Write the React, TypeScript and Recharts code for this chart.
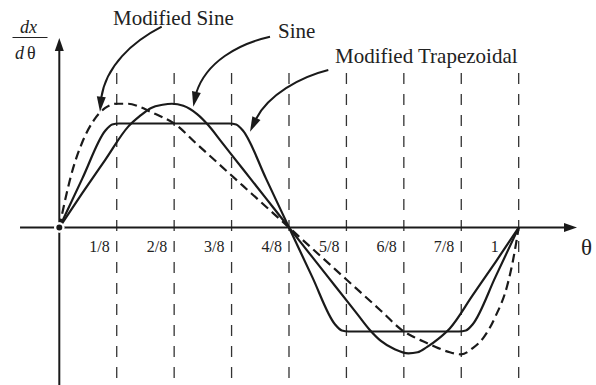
import React from "react";
import { LineChart, Line, XAxis, YAxis, ReferenceLine, ReferenceDot } from "recharts";

// curves, value scaled so the trapezoid plateau = 1
const trapezoidTheta = [0, 0.05, 0.1, 0.115, 0.13, 0.37, 0.385, 0.4, 0.45, 0.5, 0.55, 0.6, 0.615, 0.63, 0.87, 0.885, 0.9, 0.95, 1];
const trapezoidValue = [0, 0.47, 0.93, 0.99, 1, 1, 0.99, 0.93, 0.47, 0, -0.47, -0.93, -0.99, -1, -1, -0.99, -0.93, -0.47, 0];

const sineTheta = [0, 0.05, 0.1, 0.15, 0.175, 0.2, 0.225, 0.245, 0.27, 0.3, 0.325, 0.35, 0.4, 0.45, 0.5, 0.55, 0.6, 0.65, 0.675, 0.7, 0.73, 0.76, 0.78, 0.8, 0.825, 0.85, 0.9, 0.95, 1];
const sineValue = [0, 0.33, 0.65, 0.97, 1.07, 1.15, 1.18, 1.19, 1.17, 1.09, 0.98, 0.84, 0.56, 0.28, 0, -0.28, -0.56, -0.84, -0.98, -1.09, -1.17, -1.21, -1.2, -1.15, -1.07, -0.97, -0.65, -0.33, 0];

const modSineTheta = [0, 0.0125, 0.025, 0.05, 0.075, 0.1, 0.125, 0.15, 0.175, 0.2, 0.225, 0.25, 0.3, 0.35, 0.4, 0.45, 0.5, 0.55, 0.6, 0.65, 0.7, 0.75, 0.775, 0.8, 0.825, 0.85, 0.875, 0.9, 0.925, 0.95, 0.975, 0.9875, 1];
const modSineValue = [0, 0.26, 0.49, 0.82, 1.03, 1.15, 1.19, 1.19, 1.16, 1.11, 1.06, 1.0, 0.8, 0.6, 0.4, 0.2, 0, -0.2, -0.4, -0.6, -0.8, -1.0, -1.06, -1.11, -1.16, -1.2, -1.22, -1.16, -1.05, -0.85, -0.56, -0.32, 0];

const tickValues = [1 / 8, 2 / 8, 3 / 8, 4 / 8, 5 / 8, 6 / 8, 7 / 8, 1];
const tickLabels = ["1/8", "2/8", "3/8", "4/8", "5/8", "6/8", "7/8", "1"];

const toRows = (ts: number[], vs: number[]) => ts.map((t, i) => ({ t, v: vs[i] }));
const trapezoidData = toRows(trapezoidTheta, trapezoidValue);
const sineData = toRows(sineTheta, sineValue);
const modSineData = toRows(modSineTheta, modSineValue);

const FONT = "'Liberation Serif', 'Times New Roman', serif";
const INK = "#1a1a1a";

// filled arrowhead pointing from (fx,fy) toward tip (tx,ty)
function arrowHead(fx: number, fy: number, tx: number, ty: number, len = 14, half = 4.5) {
  const dx = tx - fx;
  const dy = ty - fy;
  const d = Math.hypot(dx, dy) || 1;
  const ux = dx / d;
  const uy = dy / d;
  const bx = tx - ux * len;
  const by = ty - uy * len;
  return `M${tx},${ty} L${bx - uy * half},${by + ux * half} L${bx + uy * half},${by - ux * half} Z`;
}

export default function App() {
  return (
    <div style={{ position: "absolute", left: 0, top: 0, width: 596, height: 385, background: "#fff" }}>
      <LineChart width={596} height={385} margin={{ top: 0, right: 0, bottom: 0, left: 0 }}>
        <XAxis type="number" dataKey="t" domain={[-0.1291, 1.1683]} allowDataOverflow hide />
        <YAxis type="number" domain={[-1.5144, 2.1875]} allowDataOverflow hide />

        {tickValues.map((v) => (
          <ReferenceLine
            key={"g" + v}
            segment={[{ x: v, y: 1.486 }, { x: v, y: -1.5144 }]}
            stroke="#333"
            strokeWidth={1.3}
            strokeDasharray="11 10"
            ifOverflow="visible"
          />
        ))}

        {/* axes */}
        <ReferenceLine segment={[{ x: -0.0855, y: 0 }, { x: 1.105, y: 0 }]} stroke={INK} strokeWidth={2} ifOverflow="visible" />
        <ReferenceLine segment={[{ x: 0, y: -1.5144 }, { x: 0, y: 1.72 }]} stroke={INK} strokeWidth={2} ifOverflow="visible" />
        <ReferenceDot
          x={1.1269}
          y={0}
          ifOverflow="visible"
          shape={(p: any) => <path d={arrowHead(p.cx - 10, p.cy, p.cx, p.cy, 13, 4.5)} fill={INK} />}
        />
        <ReferenceDot
          x={0}
          y={1.822}
          ifOverflow="visible"
          shape={(p: any) => <path d={arrowHead(p.cx, p.cy + 10, p.cx, p.cy, 13, 4.5)} fill={INK} />}
        />

        {tickValues.map((v, i) => (
          <ReferenceDot
            key={"l" + v}
            x={v}
            y={0}
            ifOverflow="visible"
            shape={(p: any) => (
              <text
                x={p.cx - (v === 1 ? 20 : 7)}
                y={p.cy + 24}
                textAnchor="end"
                fontFamily={FONT}
                fontSize={16}
                fill="#222"
              >
                {tickLabels[i]}
              </text>
            )}
          />
        ))}

        <Line data={modSineData} dataKey="v" type="monotone" stroke={INK} strokeWidth={2.2} strokeDasharray="9 5" dot={false} isAnimationActive={false} />
        <Line data={sineData} dataKey="v" type="monotone" stroke={INK} strokeWidth={2.2} dot={false} isAnimationActive={false} />
        <Line data={trapezoidData} dataKey="v" type="monotone" stroke={INK} strokeWidth={2.2} dot={false} isAnimationActive={false} />
      </LineChart>

      <svg width={596} height={385} style={{ position: "absolute", left: 0, top: 0, pointerEvents: "none" }}>
        <g fontFamily={FONT} fill="#222">
          <text x={20} y={32.5} fontSize={18} fontStyle="italic">dx</text>
          <line x1={12.5} x2={47.5} y1={37.5} y2={37.5} stroke="#222" strokeWidth={1.1} />
          <text x={15} y={58.5} fontSize={18}>
            <tspan fontStyle="italic">d</tspan>
            <tspan x={27}>θ</tspan>
          </text>
          <text x={581} y={255} fontSize={23}>θ</text>
          <text x={113} y={25} fontSize={21}>Modified Sine</text>
          <text x={278} y={37.5} fontSize={21}>Sine</text>
          <text x={335} y={62.5} fontSize={21}>Modified Trapezoidal</text>
        </g>
        <g stroke={INK} strokeWidth={2} fill="none">
          <path d="M161.7,26.7 C132,42 106,66 101.2,98" />
          <path d="M270,36.7 C238,44 206,62 196.2,93" />
          <path d="M328.3,70 C300,77 268,95 256,119" />
        </g>
        <g fill={INK}>
          <path d={arrowHead(101.2, 98, 100, 111.7, 15, 4.5)} />
          <path d={arrowHead(196.2, 93, 193.3, 106.7, 15, 4.5)} />
          <path d={arrowHead(256, 119, 250, 131.7, 15, 4.5)} />
        </g>
      </svg>
    </div>
  );
}
